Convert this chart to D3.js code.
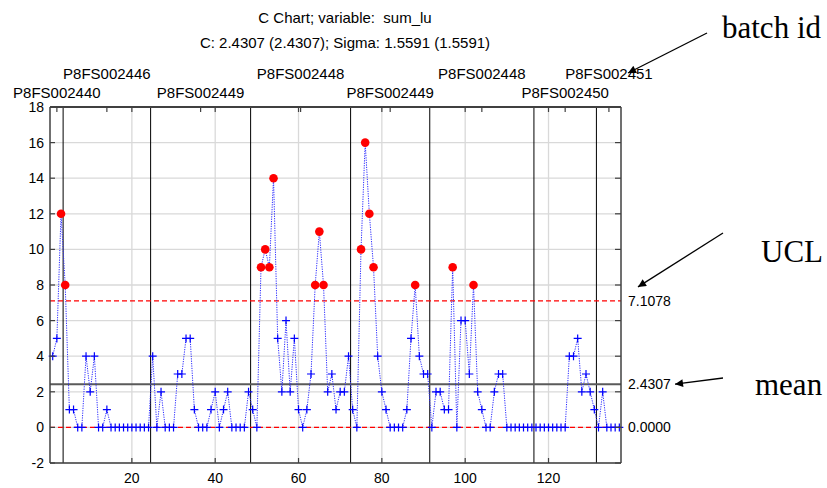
<!DOCTYPE html>
<html><head><meta charset="utf-8">
<script src="https://cdn.jsdelivr.net/npm/d3@7/dist/d3.min.js"></script>
<style>body{margin:0;background:#fff}svg{display:block}text{white-space:pre}</style>
</head><body>
<svg id="c" width="827" height="488"></svg>
<script>
// ---- data ----
const titleLines = ["C Chart; variable:  sum_lu", "C: 2.4307 (2.4307); Sigma: 1.5591 (1.5591)"];
const batchNames = ["P8FS002440","P8FS002446","P8FS002449","P8FS002448","P8FS002449","P8FS002448","P8FS002450","P8FS002451"];
const batch1 = [4,5,12];
const batch2 = [8,1,1,0,0,4,2,4,0,0,1,0,0,0,0,0,0,0,0,0,0];
const batch3 = [4,0,2,0,0,0,3,3,5,5,1,0,0,0,1,2,0,1,2,0,0,0,0,2];
const batch4 = [1,0,9,10,9,14,5,2,6,2,5,1,0,1,3,8,11,8,2,3,1,2,2,4];
const batch5 = [1,0,10,16,12,9,4,2,1,0,0,0,0,1,5,8,4,3,3];
const batch6 = [0,2,2,1,1,9,0,6,6,3,8,2,1,0,0,2,3,3,0,0,0,0,0,0,0];
const batch7 = [0,0,0,0,0,0,0,0,4,4,5,2,3,2,1];
const batch8 = [0,2,0,0,0,0];
const batchValues = [batch1,batch2,batch3,batch4,batch5,batch6,batch7,batch8];
const centerLine = 2.4307;
const ucl = 7.1078;
const lcl = 0.0;
const limitLabels = ["7.1078","2.4307","0.0000"];
const yTicks = [-2,0,2,4,6,8,10,12,14,16,18];
const xTicks = [20,40,60,80,100,120];
const notes = ["batch id","UCL","mean"];

// ---- build samples ----
const samples = [];
const batches = [];
let idx = 1;
batchValues.forEach((vals, b) => {
  const start = idx;
  vals.forEach(v => { samples.push({i: idx, v: v}); idx++; });
  batches.push({name: batchNames[b], start: start, end: idx - 1, row: b % 2});
});

const svg = d3.select("#c");
const L = 50, R = 621, T = 107, B = 463;
const x = d3.scaleLinear().domain([0.35, 137.4]).range([L, R]);
const y = d3.scaleLinear().domain([-2, 18]).range([B, T]);
const font = "'Liberation Sans', Arial, sans-serif";
const serif = "'Liberation Serif', 'Times New Roman', serif";

// grid
const g = svg.append("g");
g.selectAll(".hg").data(yTicks).enter().append("line")
  .attr("x1", L).attr("x2", R).attr("y1", d => y(d)).attr("y2", d => y(d))
  .attr("stroke", "#d9d9d9").attr("stroke-width", 1.3);
g.selectAll(".vg").data(xTicks).enter().append("line")
  .attr("y1", T).attr("y2", B).attr("x1", d => x(d)).attr("x2", d => x(d))
  .attr("stroke", "#d9d9d9").attr("stroke-width", 1.3);

// batch separators
g.selectAll(".bs").data(batches.slice(1)).enter().append("line")
  .attr("x1", d => x(d.start - 0.5)).attr("x2", d => x(d.start - 0.5))
  .attr("y1", T).attr("y2", B).attr("stroke", "#000").attr("stroke-width", 1);

// limits
[ucl, lcl].forEach(v => {
  g.append("line").attr("x1", L).attr("x2", R).attr("y1", y(v)).attr("y2", y(v))
    .attr("stroke", "#ff0000").attr("stroke-width", 1.2).attr("stroke-dasharray", "5,3");
});
g.append("line").attr("x1", L).attr("x2", R).attr("y1", y(centerLine)).attr("y2", y(centerLine))
  .attr("stroke", "#5a5a5a").attr("stroke-width", 2);

// data line
const line = d3.line().x(d => x(d.i)).y(d => y(d.v));
g.append("path").datum(samples).attr("d", line).attr("fill", "none")
  .attr("stroke", "#2a2aff").attr("stroke-width", 1).attr("stroke-dasharray", "1.2,1.2");

// markers
const inCtrl = samples.filter(d => d.v <= ucl && d.v >= lcl);
const outCtrl = samples.filter(d => d.v > ucl || d.v < lcl);
g.selectAll(".pl").data(inCtrl).enter().append("path")
  .attr("d", d => `M${x(d.i)-4},${y(d.v)}H${x(d.i)+4}M${x(d.i)},${y(d.v)-4}V${y(d.v)+4}`)
  .attr("stroke", "#0000ff").attr("stroke-width", 1.2).attr("fill", "none");
g.selectAll(".oc").data(outCtrl).enter().append("circle")
  .attr("cx", d => x(d.i)).attr("cy", d => y(d.v)).attr("r", 4.3).attr("fill", "#ff0000");

// frame
const fr = svg.append("g").attr("stroke", "#404040").attr("fill", "none");
fr.append("line").attr("x1", L).attr("x2", R).attr("y1", T).attr("y2", T).attr("stroke-width", 2);
fr.append("line").attr("x1", L).attr("x2", R).attr("y1", B).attr("y2", B).attr("stroke-width", 1.5);
fr.append("line").attr("x1", L).attr("x2", L).attr("y1", T).attr("y2", B).attr("stroke-width", 1.5);
fr.append("line").attr("x1", R).attr("x2", R).attr("y1", T).attr("y2", B).attr("stroke-width", 1.5);

// ticks
fr.selectAll(".bt").data(xTicks).enter().append("line")
  .attr("x1", d => x(d)).attr("x2", d => x(d)).attr("y1", B).attr("y2", B - 5).attr("stroke-width", 1.2);
fr.selectAll(".tt").data(xTicks).enter().append("line")
  .attr("x1", d => x(d)).attr("x2", d => x(d)).attr("y1", T).attr("y2", T + 5).attr("stroke-width", 1.2);
fr.selectAll(".tb").data(batches).enter().append("line")
  .attr("x1", d => x((d.start + d.end) / 2)).attr("x2", d => x((d.start + d.end) / 2))
  .attr("y1", T).attr("y2", T + 5).attr("stroke-width", 1.2);
fr.selectAll(".rt").data(yTicks).enter().append("line")
  .attr("x1", R).attr("x2", R - 6).attr("y1", d => y(d)).attr("y2", d => y(d)).attr("stroke-width", 1.2);
fr.selectAll(".lt").data(yTicks).enter().append("line")
  .attr("x1", L).attr("x2", L + 5).attr("y1", d => y(d)).attr("y2", d => y(d)).attr("stroke-width", 1.2);

// tick labels
svg.selectAll(".yl").data(yTicks).enter().append("text")
  .attr("x", 44).attr("y", d => y(d) + 5).attr("text-anchor", "end")
  .attr("font-family", font).attr("font-size", 14).attr("fill", "#000").text(d => d);
svg.selectAll(".xl").data(xTicks).enter().append("text")
  .attr("x", d => x(d)).attr("y", 483).attr("text-anchor", "middle")
  .attr("font-family", font).attr("font-size", 14).attr("fill", "#000").text(d => d);
svg.selectAll(".rl").data([ucl, centerLine, lcl]).enter().append("text")
  .attr("x", 628).attr("y", d => y(d) + 5).attr("text-anchor", "start")
  .attr("font-family", font).attr("font-size", 14).attr("fill", "#000").text((d, k) => limitLabels[k]);

// batch labels
svg.selectAll(".bl").data(batches).enter().append("text")
  .attr("x", d => x((d.start + d.end) / 2)).attr("y", d => d.row === 0 ? 97.5 : 79.3)
  .attr("text-anchor", "middle").attr("font-family", font).attr("font-size", 15)
  .attr("fill", "#000").text(d => d.name);

// titles
svg.selectAll(".ti").data(titleLines).enter().append("text")
  .attr("x", 345).attr("y", (d, k) => 22.5 + k * 25).attr("text-anchor", "middle")
  .attr("font-family", font).attr("font-size", 15).attr("fill", "#000")
  .attr("xml:space", "preserve").text(d => d);

// annotations
const defs = svg.append("defs");
defs.append("marker").attr("id", "ah").attr("viewBox", "0 0 10 10").attr("refX", 10).attr("refY", 5)
  .attr("markerWidth", 10).attr("markerHeight", 8).attr("markerUnits", "userSpaceOnUse")
  .attr("orient", "auto").append("path").attr("d", "M0,0L10,5L0,10Z").attr("fill", "#000");
const ann = svg.append("g").attr("font-family", serif).attr("font-size", 31).attr("fill", "#000");
ann.append("text").attr("x", 722).attr("y", 38).text(notes[0]);
ann.append("text").attr("x", 761).attr("y", 262).text(notes[1]);
ann.append("text").attr("x", 755).attr("y", 395).text(notes[2]);
const arrows = [
  [707, 33, 628, 73],
  [723, 233, 638, y(ucl) - 14],
  [723, 378, 675, y(centerLine)]
];
svg.selectAll(".ar").data(arrows).enter().append("line")
  .attr("x1", d => d[0]).attr("y1", d => d[1]).attr("x2", d => d[2]).attr("y2", d => d[3])
  .attr("stroke", "#000").attr("stroke-width", 1.3).attr("marker-end", "url(#ah)");
</script>
</body></html>
